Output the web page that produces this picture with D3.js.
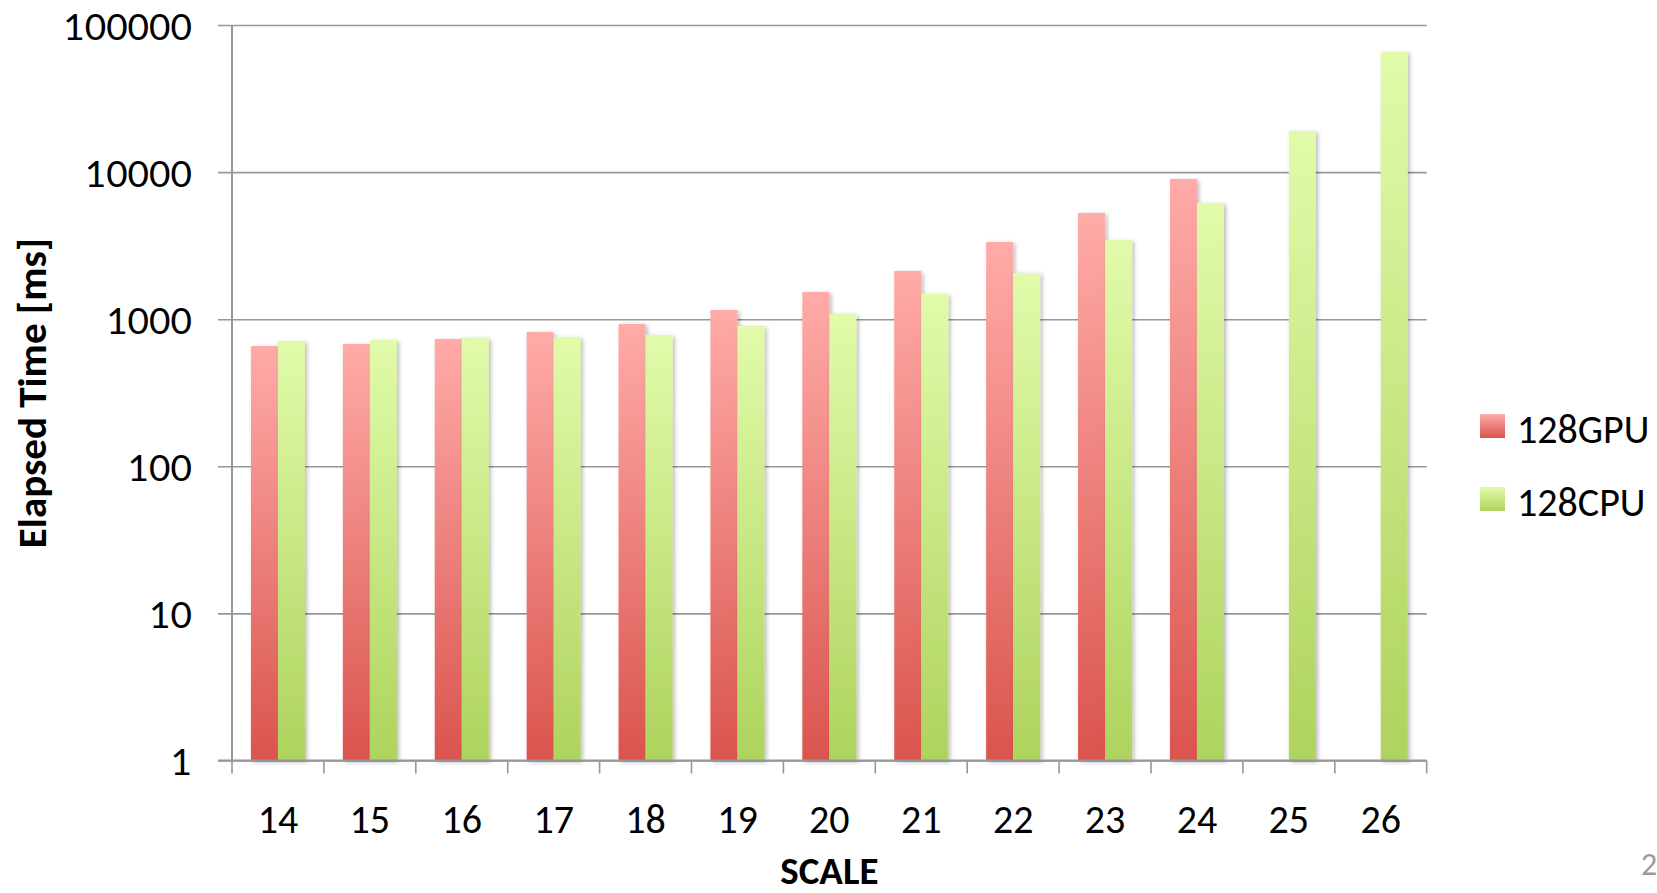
<!DOCTYPE html>
<html>
<head>
<meta charset="utf-8">
<script src="https://cdn.jsdelivr.net/npm/d3@7"></script>
<style>
  html, body { margin: 0; padding: 0; background: #ffffff; }
  svg { display: block; }
</style>
</head>
<body>
<svg id="chart" width="1657" height="893"></svg>
<script>
// Elapsed time per SCALE for 128 GPUs vs 128 CPUs (log scale, ms)
const categories = ["14", "15", "16", "17", "18", "19", "20", "21", "22", "23", "24", "25", "26"];
const seriesNames = ["128GPU", "128CPU"];
const gpuTimes = [657, 678, 734, 818, 927, 1155, 1531, 2127, 3350, 5270, 8980, null, null];
const cpuTimes = [711, 722, 745, 757, 782, 899, 1084, 1484, 2061, 3456, 6170, 19020, 65600];
const yTickValues = [1, 10, 100, 1000, 10000, 100000];
const yTickLabels = ["1", "10", "100", "1000", "10000", "100000"];

(function draw() {
  const svg = d3.select("#chart");
  const plotLeft = 232, plotRight = 1426.7, plotTop = 25, plotBottom = 760.5;

  const x0 = d3.scaleBand().domain(categories).range([plotLeft, plotRight]).paddingInner(0).paddingOuter(0);
  const barW = 27;
  const x1 = d3.scaleBand().domain(seriesNames).range([-barW, barW]);
  const y = d3.scaleLog().domain([1, 100000]).range([plotBottom, plotTop]);

  const gridColor = "#979797";

  // gradients and bar shadow
  const defs = svg.append("defs");
  const grads = [
    { id: "gGPU", top: "#ffaba8", bottom: "#da544e" },
    { id: "gCPU", top: "#e1fbaa", bottom: "#aed35d" }
  ];
  grads.forEach(g => {
    const lg = defs.append("linearGradient").attr("id", g.id)
      .attr("x1", 0).attr("y1", 0).attr("x2", 0).attr("y2", 1);
    lg.append("stop").attr("offset", "0%").attr("stop-color", g.top);
    lg.append("stop").attr("offset", "100%").attr("stop-color", g.bottom);
  });
  const f = defs.append("filter").attr("id", "shadow")
    .attr("x", "-30%").attr("y", "-5%").attr("width", "160%").attr("height", "110%");
  f.append("feDropShadow").attr("dx", 2).attr("dy", 1.5).attr("stdDeviation", 2)
    .attr("flood-color", "#000").attr("flood-opacity", 0.28);

  // horizontal gridlines with outward tick
  const yAxis = d3.axisLeft(y).tickValues(yTickValues)
    .tickFormat((d, i) => yTickLabels[i])
    .tickSizeInner(-(plotRight - plotLeft)).tickSizeOuter(0).tickPadding(40);
  const gy = svg.append("g").attr("transform", `translate(${plotLeft},0)`).call(yAxis);
  gy.select(".domain").remove();
  gy.selectAll(".tick line")
    .attr("x1", -14).attr("x2", plotRight - plotLeft)
    .attr("stroke", gridColor).attr("stroke-width", 1.6);
  gy.selectAll(".tick text")
    .attr("font-family", "Lato, 'Open Sans', sans-serif")
    .attr("font-size", 37).attr("fill", "#000")
    .attr("dy", null).attr("y", 14);

  // vertical axis line
  svg.append("line").attr("x1", plotLeft).attr("x2", plotLeft).attr("y1", plotTop).attr("y2", plotBottom)
    .attr("stroke", gridColor).attr("stroke-width", 2);

  // bars
  const seriesData = [gpuTimes, cpuTimes];
  const gBars = svg.append("g");
  seriesNames.forEach((s, si) => {
    const rows = categories.map((c, i) => ({ c, v: seriesData[si][i] })).filter(d => d.v != null);
    gBars.selectAll(null).data(rows).join("rect")
      .attr("x", d => x0(d.c) + x0.bandwidth() / 2 + x1(s))
      .attr("width", x1.bandwidth())
      .attr("y", d => y(d.v))
      .attr("height", d => y(1) - y(d.v))
      .attr("fill", `url(#${grads[si].id})`)
      .attr("filter", "url(#shadow)");
  });

  // bottom axis: line, band-edge ticks, category labels
  const xAxis = d3.axisBottom(x0).tickSize(0).tickPadding(0);
  const gx = svg.append("g").attr("transform", `translate(0,${plotBottom})`).call(xAxis);
  gx.select(".domain").remove();
  gx.selectAll(".tick text")
    .attr("font-family", "Carlito, Lato, sans-serif")
    .attr("font-size", 40).attr("fill", "#000")
    .attr("dy", null).attr("y", 72);
  svg.append("line").attr("x1", plotLeft - 14).attr("x2", plotRight).attr("y1", plotBottom).attr("y2", plotBottom)
    .attr("stroke", gridColor).attr("stroke-width", 2);
  const edges = categories.map(c => x0(c)).concat([x0.range()[1]]);
  svg.append("g").selectAll("line").data(edges).join("line")
    .attr("x1", d => d).attr("x2", d => d)
    .attr("y1", plotBottom).attr("y2", plotBottom + 13)
    .attr("stroke", gridColor).attr("stroke-width", 1.6);

  // axis titles
  svg.append("text").text("SCALE")
    .attr("x", (plotLeft + plotRight) / 2).attr("y", 884)
    .attr("text-anchor", "middle")
    .attr("font-family", "Carlito, Lato, sans-serif").attr("font-weight", "bold")
    .attr("font-size", 39).attr("fill", "#000");
  svg.append("text").text("Elapsed Time [ms]")
    .attr("transform", "translate(46,393) rotate(-90)")
    .attr("text-anchor", "middle")
    .attr("font-family", "Carlito, Lato, sans-serif").attr("font-weight", "bold")
    .attr("font-size", 41).attr("fill", "#000");

  // legend
  const legend = svg.append("g");
  seriesNames.forEach((s, i) => {
    const ly = 414 + i * 73;
    legend.append("rect").attr("x", 1480).attr("y", ly).attr("width", 25).attr("height", 24)
      .attr("fill", `url(#${grads[i].id})`);
    legend.append("text").text(s).attr("x", 1517).attr("y", ly + 29)
      .attr("font-family", "Carlito, Lato, sans-serif")
      .attr("font-size", 40).attr("fill", "#000");
  });

  // page number in the corner
  svg.append("text").text("2").attr("x", 1641).attr("y", 875)
    .attr("font-family", "Carlito, Lato, sans-serif")
    .attr("font-size", 32).attr("fill", "#9a9a9a");
})();
</script>
</body>
</html>
